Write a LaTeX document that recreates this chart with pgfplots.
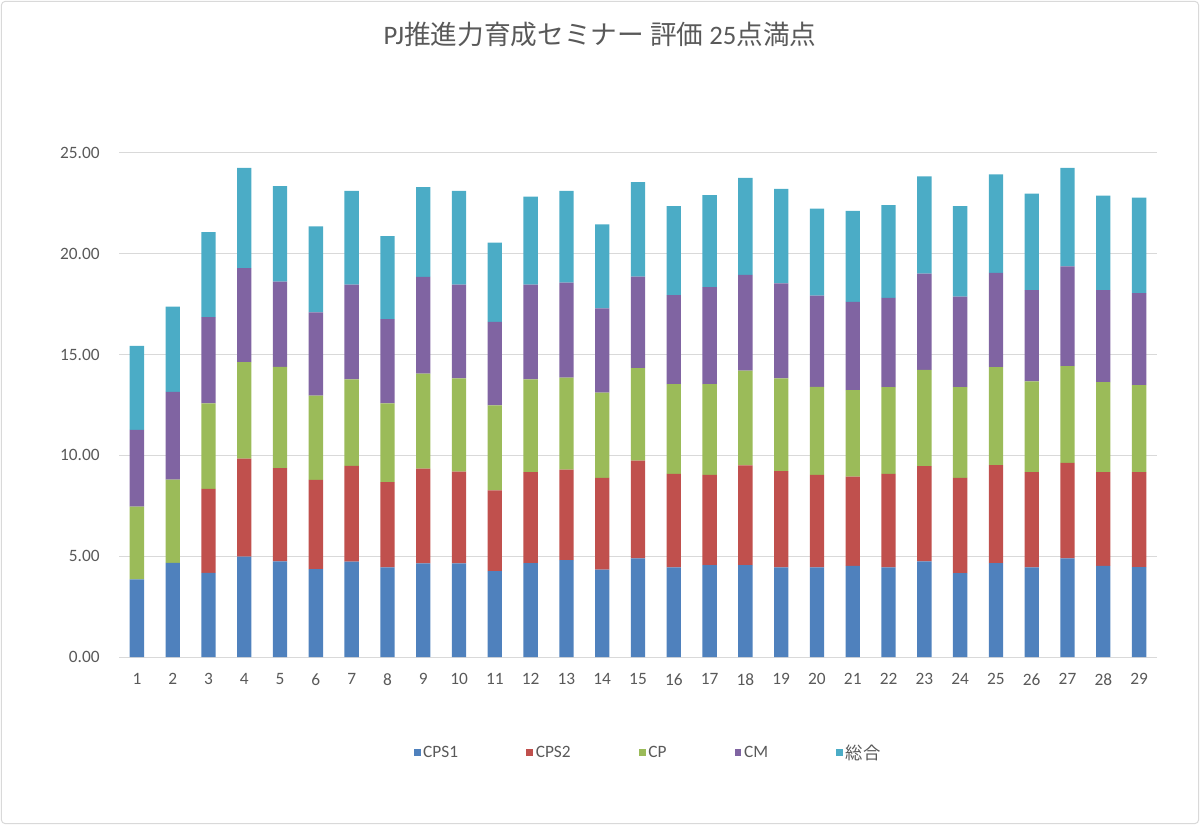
\documentclass[border=0pt]{standalone}
\usepackage{fontspec}
\setmainfont{Carlito}
\newfontfamily\cjk{Noto Sans CJK JP}
\usepackage{pgfplots}
\usepackage{pgfplotstable}
\pgfplotsset{compat=1.18}
\definecolor{cA}{HTML}{4F81BD}
\definecolor{cB}{HTML}{C0504D}
\definecolor{cC}{HTML}{9BBB59}
\definecolor{cD}{HTML}{8064A2}
\definecolor{cE}{HTML}{4BACC6}
\definecolor{gridc}{HTML}{D9D9D9}
\definecolor{txt}{HTML}{595959}
\pgfplotstableread{
x a b c d e
1 3.85 0 3.61 3.80 4.17
2 4.67 0 4.13 4.35 4.23
3 4.17 4.17 4.24 4.28 4.22
4 4.98 4.86 4.79 4.66 4.97
5 4.74 4.63 5.02 4.23 4.74
6 4.36 4.42 4.19 4.12 4.27
7 4.73 4.75 4.29 4.70 4.65
8 4.44 4.24 3.90 4.18 4.12
9 4.64 4.71 4.71 4.79 4.46
10 4.64 4.56 4.62 4.65 4.65
11 4.26 4.00 4.22 4.14 3.94
12 4.66 4.51 4.60 4.70 4.37
13 4.81 4.49 4.56 4.71 4.55
14 4.34 4.54 4.24 4.17 4.17
15 4.89 4.85 4.59 4.54 4.69
16 4.44 4.64 4.46 4.41 4.42
17 4.56 4.47 4.51 4.81 4.56
18 4.56 4.94 4.71 4.74 4.81
19 4.44 4.78 4.60 4.71 4.69
20 4.44 4.59 4.37 4.52 4.32
21 4.52 4.43 4.29 4.37 4.52
22 4.44 4.64 4.31 4.42 4.61
23 4.74 4.73 4.77 4.78 4.82
24 4.16 4.72 4.51 4.49 4.49
25 4.66 4.86 4.86 4.67 4.89
26 4.44 4.73 4.50 4.53 4.79
27 4.89 4.74 4.80 4.94 4.89
28 4.52 4.65 4.47 4.56 4.69
29 4.46 4.71 4.32 4.56 4.74
}\data
\begin{document}
\begin{tikzpicture}
\useasboundingbox (0pt,0pt) rectangle (900pt,618.75pt);
\draw[gridc, line width=0.75pt, rounded corners=3pt] (1pt,1pt) rectangle (899pt,617.75pt);
\node[text=txt, font=\fontsize{20}{23}\selectfont] at (450pt,593pt) {PJ{\cjk 推進力育成セミナー} {\cjk 評価} 25{\cjk 点満点}};
\begin{axis}[
  at={(89.25pt,126pt)}, anchor=south west,
  scale only axis, width=778.5pt, height=378pt,
  ybar stacked, bar width=0.4,
  xmin=0.5, xmax=29.5, ymin=0, ymax=25,
  xtick={1,...,29}, ytick={0,5,10,15,20,25},
  ymajorgrids, grid style={gridc, line width=0.75pt},
  axis line style={draw=none},
  major tick length=0pt,
  tick label style={text=txt, font=\fontsize{13}{15}\selectfont},
  xticklabel style={yshift=-9pt},
  yticklabel style={xshift=-11pt},
  yticklabel={\pgfmathprintnumber[fixed,fixed zerofill,precision=2]{\tick}},
  /pgf/number format/assume math mode=true,
  legend columns=5,
  legend style={at={(rel axis cs:0.51,-0.19)}, anchor=center, draw=none, fill=none,
    font=\fontsize{13}{15}\selectfont, text=txt,
    /tikz/every even column/.append style={column sep=49pt},
    nodes={inner sep=2pt}},
  legend image code/.code={\fill[#1] (0pt,-2.6pt) rectangle (5.2pt,2.6pt);},
]
\addplot[fill=cA, draw=none] table[x=x,y=a] {\data};
\addplot[fill=cB, draw=none] table[x=x,y=b] {\data};
\addplot[fill=cC, draw=none] table[x=x,y=c] {\data};
\addplot[fill=cD, draw=none] table[x=x,y=d] {\data};
\addplot[fill=cE, draw=none] table[x=x,y=e] {\data};
\legend{CPS1, CPS2, CP, CM, {\cjk 総合}}
\end{axis}
\end{tikzpicture}
\end{document}
